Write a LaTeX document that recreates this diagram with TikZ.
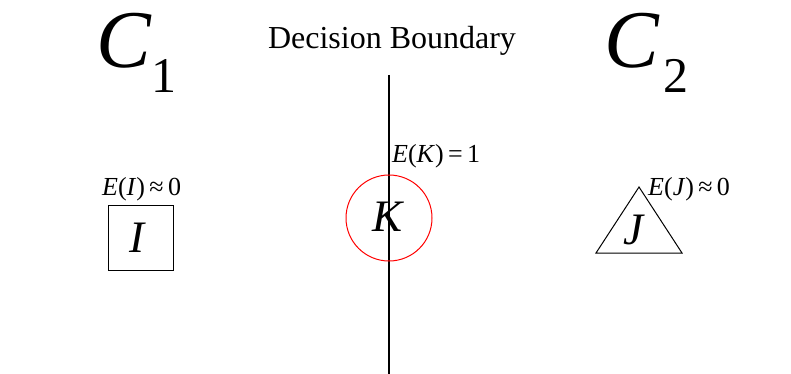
\documentclass[tikz,border=0pt]{standalone}
\usepackage{fontspec}
\setmainfont{Liberation Serif}
\tikzset{
  lbl/.style={inner sep=0pt, anchor=base west, font=\fontsize{26}{26}\selectfont},
  big/.style={inner sep=0pt, anchor=base west, font=\fontsize{82}{82}\selectfont\itshape},
  sub/.style={inner sep=0pt, anchor=base west, font=\fontsize{50}{50}\selectfont},
  letter/.style={inner sep=0pt, font=\fontsize{45}{45}\selectfont\itshape},
}
\begin{document}
\begin{tikzpicture}[x=1pt,y=-1pt]
\useasboundingbox (0,0) rectangle (791,374);
% classes
\node[big] (c1) at (96,68) {C};
\node[sub] (c1s) at (151,93) {1};
\node[big] (c2) at (604,68) {C};
\node[sub] (c2s) at (663,93) {2};
\node[inner sep=0pt, anchor=base, font=\fontsize{32}{32}\selectfont] (db) at (392,49) {Decision Boundary};
% boundary
\coordinate (top) at (389,75);
\coordinate (bot) at (389,374);
\draw[line width=1.1pt] (top) -- (bot);
% K
\node[draw=red, circle, minimum size=86pt, inner sep=0pt, line width=1pt] (k) at (389,218) {};
\node[letter] (kl) at (388,217) {K};
\node[lbl] (ek) at (392,163) {\textit{E}(\textit{K})\,=\,1};
% I
\node[draw, minimum size=65pt, inner sep=0pt, line width=1pt] (i) at (140.5,237.5) {};
\node[letter] (il) at (137,238) {I};
\node[lbl] (ei) at (102,195) {\textit{E}(\textit{I})\,≈\,0};
% J
\coordinate (ja) at (639,187);
\coordinate (jb) at (596,253);
\coordinate (jc) at (682,253);
\draw[line width=1pt, line join=miter] (ja) -- (jb) -- (jc) -- cycle;
\node[letter] (jl) at (633,230) {J};
\node[lbl] (ej) at (648,195) {\textit{E}(\textit{J})\,≈\,0};
\end{tikzpicture}
\end{document}
